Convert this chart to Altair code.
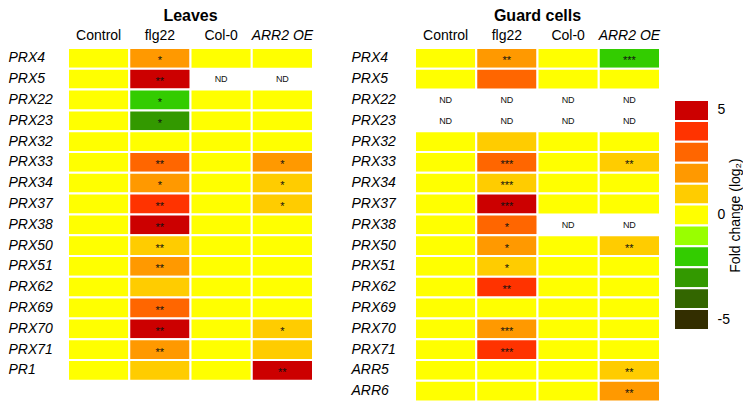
import altair as alt
import pandas as pd

conds = ["Control", "flg22", "Col-0", "ARR2 OE"]

# ---- Leaves ----
leaves_genes = ["PRX4", "PRX5", "PRX22", "PRX23", "PRX32", "PRX33", "PRX34", "PRX37",
                "PRX38", "PRX50", "PRX51", "PRX62", "PRX69", "PRX70", "PRX71", "PR1"]
leaves_control = [0, 0, 0, 0, 0, 0, 0, 0, 0, 0, 0, 0, 0, 0, 0, 0]
leaves_flg22 = [2, 5, -2, -3, 0, 3, 2, 4, 5, 1, 2, 1, 3, 5, 2, 1]
leaves_col0 = [0, None, 0, 0, 0, 0, 0, 0, 0, 0, 0, 0, 0, 0, 0, 0]
leaves_arr2 = [0, None, 0, 0, 0, 2, 1, 1, 0, 0, 0, 0, 0, 1, 1, 5]
leaves_control_sig = ["", "", "", "", "", "", "", "", "", "", "", "", "", "", "", ""]
leaves_flg22_sig = ["*", "**", "*", "*", "", "**", "*", "**", "**", "**", "**", "", "**", "**", "**", ""]
leaves_col0_sig = ["", "", "", "", "", "", "", "", "", "", "", "", "", "", "", ""]
leaves_arr2_sig = ["", "", "", "", "", "*", "*", "*", "", "", "", "", "", "*", "", "**"]

# ---- Guard cells ----
guard_genes = ["PRX4", "PRX5", "PRX22", "PRX23", "PRX32", "PRX33", "PRX34", "PRX37", "PRX38",
               "PRX50", "PRX51", "PRX62", "PRX69", "PRX70", "PRX71", "ARR5", "ARR6"]
guard_control = [0, 0, None, None, 0, 0, 0, 0, 0, 0, 0, 0, 0, 0, 0, 0, 0]
guard_flg22 = [2, 3, None, None, 1, 3, 1, 5, 3, 2, 1, 4, 0, 2, 4, 0, 0]
guard_col0 = [0, 0, None, None, 0, 0, 0, 0, None, 0, 0, 0, 0, 0, 0, 0, 0]
guard_arr2 = [-2, 0, None, None, 0, 1, 0, 0, None, 1, 0, 0, 0, 0, 0, 1, 2]
guard_control_sig = ["", "", "", "", "", "", "", "", "", "", "", "", "", "", "", "", ""]
guard_flg22_sig = ["**", "", "", "", "", "***", "***", "***", "*", "*", "*", "**", "", "***", "***", "", ""]
guard_col0_sig = ["", "", "", "", "", "", "", "", "", "", "", "", "", "", "", "", ""]
guard_arr2_sig = ["***", "", "", "", "", "**", "", "", "", "**", "", "", "", "", "", "**", "**"]

# ---- Colour bins ----
bins = [5, 4, 3, 2, 1, 0, -1, -2, -3, -4, -5]
bin_colors = ["#CC0000", "#FF3300", "#FF6600", "#FF9900", "#FFCC00", "#FFFF00",
              "#99FF00", "#33CC00", "#339900", "#336600", "#332E00"]


def make_df(genes, cols, sigs):
    rows = []
    for cond, vals, sg in zip(conds, cols, sigs):
        for g, v, s in zip(genes, vals, sg):
            rows.append({"gene": g, "cond": cond, "fc": v,
                         "label": "ND" if v is None else s})
    return pd.DataFrame(rows)


leaves_df = make_df(leaves_genes,
                    [leaves_control, leaves_flg22, leaves_col0, leaves_arr2],
                    [leaves_control_sig, leaves_flg22_sig, leaves_col0_sig, leaves_arr2_sig])
guard_df = make_df(guard_genes,
                   [guard_control, guard_flg22, guard_col0, guard_arr2],
                   [guard_control_sig, guard_flg22_sig, guard_col0_sig, guard_arr2_sig])

color_scale = alt.Scale(domain=bins, range=bin_colors)
ROW_H = 20.8
FONT = "Liberation Sans"


def panel(df, genes, title, label_pad):
    base = alt.Chart(df).encode(
        x=alt.X("cond:N", sort=conds,
                scale=alt.Scale(paddingInner=0, paddingOuter=0),
                axis=alt.Axis(orient="top", title=None, labelFontSize=14, labelPadding=6,
                              labelAngle=0, domain=False, ticks=False, labelColor="#000",
                              labelFontStyle=alt.expr("datum.value == 'ARR2 OE' ? 'italic' : 'normal'"))),
        y=alt.Y("gene:N", sort=genes,
                scale=alt.Scale(paddingInner=0, paddingOuter=0),
                axis=alt.Axis(title=None, labelAlign="left", labelPadding=label_pad,
                              labelFontStyle="italic", labelFontSize=14, labelColor="#000",
                              domain=False, ticks=False)),
    )
    rects = base.transform_filter("isValid(datum.fc)").mark_rect(
        stroke="white", strokeWidth=2).encode(
        color=alt.Color("fc:O", scale=color_scale, legend=None))
    stars = base.transform_filter("datum.label != 'ND'").mark_text(
        fontSize=11, baseline="middle", dy=3, color="#111").encode(text="label:N")
    nd = base.transform_filter("datum.label == 'ND'").mark_text(
        fontSize=9, baseline="middle", color="#111").encode(text="label:N")
    return alt.layer(rects, stars, nd).properties(
        width=245, height=ROW_H * len(genes),
        title=alt.TitleParams(title, fontSize=16, fontWeight="bold", anchor="middle",
                              offset=4, color="#000"))


leaves = panel(leaves_df, leaves_genes, "Leaves", 60)
guard = panel(guard_df, guard_genes, "Guard cells", 64)

legend_df = pd.DataFrame({"fc": bins})
legend = alt.Chart(legend_df).mark_rect(stroke="white", strokeWidth=2).encode(
    y=alt.Y("fc:O", sort=bins,
            scale=alt.Scale(range=[52, 282], paddingInner=0, paddingOuter=0),
            axis=alt.Axis(orient="right", title="Fold change (log₂)", titleAngle=270,
                          titleFontSize=14, titleFontWeight="normal", titleColor="#000",
                          titlePadding=13, labelFontSize=14, labelColor="#000", labelPadding=8,
                          labelExpr="datum.value == 5 || datum.value == 0 || datum.value == -5 ? datum.label : ''",
                          domain=False, ticks=False)),
    color=alt.Color("fc:O", scale=color_scale, legend=None),
).properties(width=35, height=282)

chart = alt.hconcat(
    alt.hconcat(leaves, guard, spacing=37),
    legend,
    spacing=12,
).properties(
    padding={"left": 0, "top": 0, "right": 0, "bottom": 0}
).configure(font=FONT).configure_view(stroke=None)

chart.save("out.html", embed_options={"renderer": "svg", "actions": False})
